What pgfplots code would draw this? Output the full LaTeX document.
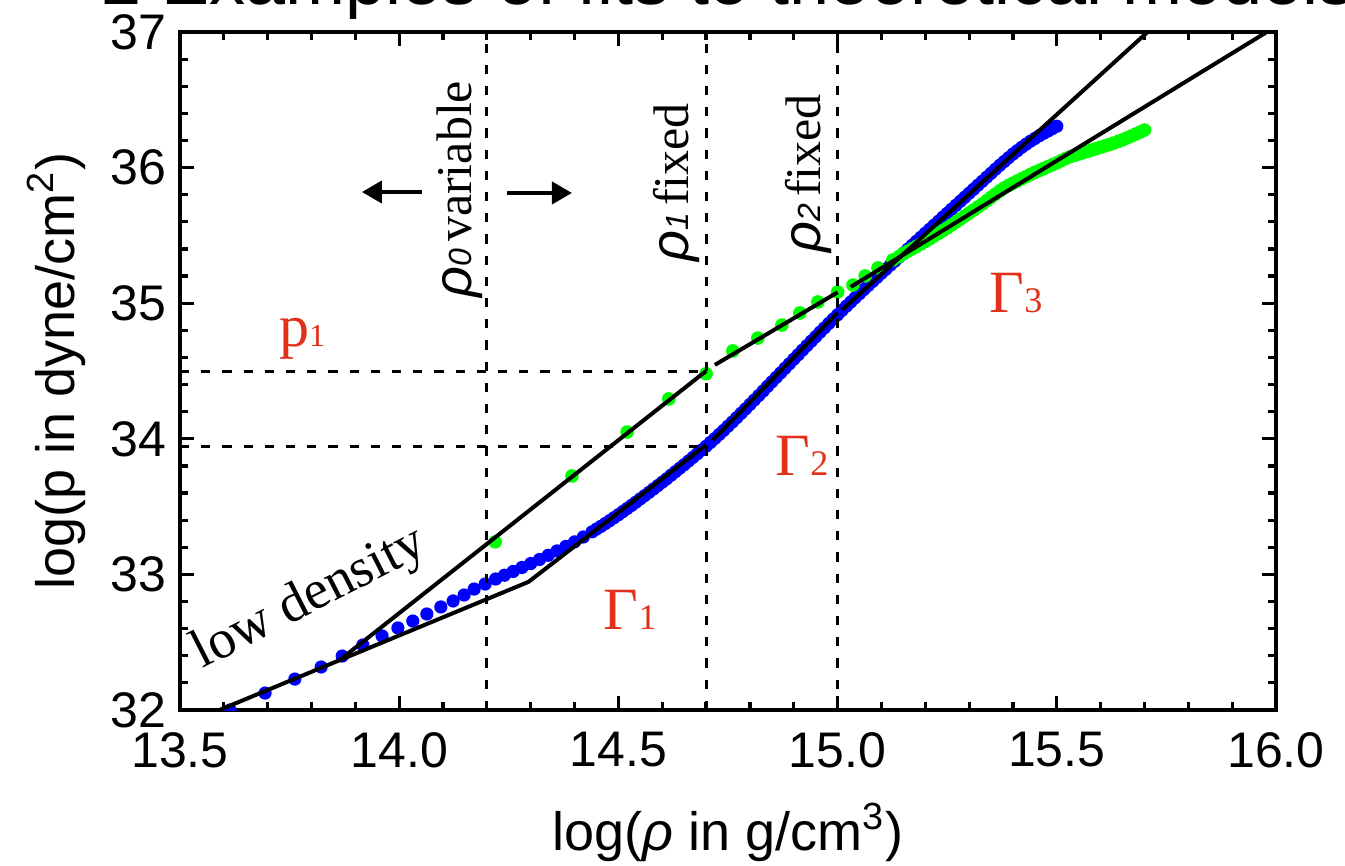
\documentclass[border=0pt]{standalone}
\usepackage{fontspec}
\setmainfont{Liberation Sans}
\newfontfamily\serif{Liberation Serif}
\usepackage{pgfplots}
\pgfplotsset{compat=1.18}
\usetikzlibrary{arrows.meta}
\definecolor{gred}{RGB}{226,48,26}
\definecolor{pblue}{RGB}{0,0,255}
\definecolor{pgreen}{RGB}{0,255,0}
\begin{document}
\begin{tikzpicture}
\begin{axis}[
  scale only axis, width=274pt, height=169.5pt,
  xmin=13.5, xmax=16, ymin=32, ymax=37,
  clip marker paths=true,
  axis line style={line width=1pt},
  xtick={13.5,14,14.5,15,15.5,16},
  ytick={32,33,34,35,36,37},
  minor x tick num=4, minor y tick num=4,
  tick align=inside, xtick pos=both, ytick pos=both,
  major tick length=3.5pt, minor tick length=2pt,
  every tick/.style={black, line width=0.8pt},
  tick label style={font=\fontsize{12.5}{12.5}\selectfont},
  /pgf/number format/assume math mode=true,
  x tick label style={/pgf/number format/fixed, /pgf/number format/fixed zerofill, /pgf/number format/precision=1, yshift=-2pt},
  xlabel={log(\textit{ρ} in g/cm\textsuperscript{3})},
  ylabel={log(p in dyne/cm\textsuperscript{2})},
  label style={font=\fontsize{13.5}{13.5}\selectfont},
  xlabel style={at={(axis description cs:0.5,-0.2065)}, anchor=base},
  ylabel style={at={(axis description cs:-0.0967,0.5)}, anchor=base},
  title={2 Examples of fits to theoretical models},
  every axis title/.style={at={(axis description cs:0.5,1)}, anchor=base, yshift=7pt, font=\fontsize{18}{18}\selectfont},
]
% blue data
\addplot[only marks, mark=*, color=pblue, mark size=1.45pt, mark options={line width=0.4pt}] coordinates {
(13.614,32.000) (13.694,32.125) (13.762,32.228) (13.822,32.317) (13.870,32.398)
(13.917,32.479) (13.961,32.546) (13.997,32.605) (14.031,32.656) (14.063,32.708)
(14.095,32.760) (14.123,32.804) (14.148,32.848) (14.171,32.892) (14.196,32.929)
(14.22,32.966) (14.24,32.994) (14.26,33.022) (14.28,33.051) (14.30,33.080)
(14.32,33.110) (14.34,33.141) (14.36,33.173) (14.38,33.206) (14.40,33.240)
(14.42,33.276) (14.44,33.314) (14.45,33.334) (14.46,33.354) (14.47,33.375)
(14.48,33.396) (14.49,33.418) (14.50,33.440) (14.51,33.463) (14.52,33.486)
(14.53,33.509) (14.54,33.533) (14.55,33.557) (14.56,33.581) (14.57,33.605)
(14.58,33.630) (14.59,33.655) (14.60,33.680) (14.61,33.705) (14.62,33.731)
(14.63,33.757) (14.64,33.783) (14.65,33.809) (14.66,33.836) (14.67,33.863)
(14.68,33.890) (14.69,33.917) (14.70,33.945) (14.71,33.973) (14.72,34.002)
(14.73,34.032) (14.74,34.062) (14.75,34.093) (14.76,34.124) (14.77,34.156)
(14.78,34.188) (14.79,34.220) (14.80,34.253) (14.81,34.286) (14.82,34.319)
(14.83,34.352) (14.84,34.386) (14.85,34.420) (14.86,34.453) (14.87,34.486)
(14.88,34.520) (14.89,34.553) (14.90,34.587) (14.91,34.620) (14.92,34.654)
(14.93,34.687) (14.94,34.720) (14.95,34.753) (14.96,34.786) (14.97,34.818)
(14.98,34.851) (14.99,34.883) (15.00,34.915) (15.01,34.947) (15.02,34.978)
(15.03,35.009) (15.04,35.040) (15.05,35.070) (15.06,35.101) (15.07,35.131)
(15.08,35.161) (15.09,35.191) (15.10,35.221) (15.11,35.250) (15.12,35.280)
(15.13,35.309) (15.14,35.339) (15.15,35.368) (15.16,35.398) (15.17,35.427)
(15.18,35.457) (15.19,35.486) (15.20,35.516) (15.21,35.545) (15.22,35.575)
(15.23,35.604) (15.24,35.634) (15.25,35.663) (15.26,35.693) (15.27,35.722)
(15.28,35.752) (15.29,35.781) (15.30,35.811) (15.31,35.840) (15.32,35.870)
(15.33,35.899) (15.34,35.929) (15.35,35.958) (15.36,35.988) (15.37,36.017)
(15.38,36.045) (15.39,36.073) (15.40,36.100) (15.41,36.125) (15.42,36.150)
(15.43,36.173) (15.44,36.195) (15.45,36.215) (15.46,36.235) (15.47,36.253)
(15.48,36.270) (15.49,36.288) (15.50,36.305)
};
% green data
\addplot[only marks, mark=*, color=pgreen, mark size=1.5pt, mark options={line width=0.4pt}] coordinates {
(14.219,33.240) (14.394,33.726) (14.520,34.050) (14.615,34.294) (14.700,34.480)
(14.761,34.648) (14.818,34.743) (14.873,34.839) (14.914,34.928) (14.955,35.009)
(15.000,35.083) (15.035,35.134) (15.063,35.201) (15.092,35.260) (15.126,35.319)
(15.14,35.344) (15.15,35.365) (15.16,35.383) (15.17,35.401) (15.18,35.419)
(15.19,35.437) (15.20,35.455) (15.21,35.475) (15.22,35.495) (15.23,35.515)
(15.24,35.535) (15.25,35.555) (15.26,35.577) (15.27,35.599) (15.28,35.621)
(15.29,35.643) (15.30,35.665) (15.31,35.687) (15.32,35.709) (15.33,35.731)
(15.34,35.755) (15.35,35.780) (15.36,35.804) (15.37,35.828) (15.38,35.850)
(15.39,35.868) (15.40,35.885) (15.41,35.901) (15.42,35.917) (15.43,35.933)
(15.44,35.949) (15.45,35.965) (15.46,35.979) (15.47,35.993) (15.48,36.007)
(15.49,36.021) (15.50,36.035) (15.51,36.051) (15.52,36.067) (15.53,36.080)
(15.54,36.090) (15.55,36.100) (15.56,36.110) (15.57,36.120) (15.58,36.130)
(15.59,36.140) (15.60,36.150) (15.61,36.160) (15.62,36.170) (15.63,36.181)
(15.64,36.193) (15.65,36.205) (15.66,36.219) (15.67,36.233) (15.68,36.247)
(15.69,36.262) (15.70,36.277)
};
% fits
\addplot[black, line width=1pt] coordinates {(13.59,32.0) (14.295,32.945) (14.70,33.955)};
\addplot[black, line width=1pt] coordinates {(14.715,33.99) (15.0,34.93)};
\addplot[black, line width=1pt] coordinates {(15.01,34.95) (15.707,37.0)};
\addplot[black, line width=1pt] coordinates {(13.865,32.37) (14.70,34.50)};
\addplot[black, line width=1pt] coordinates {(14.72,34.545) (15.0,35.08)};
\addplot[black, line width=1pt] coordinates {(15.03,35.12) (15.979,37.0)};
% dashed guides
\addplot[black, line width=0.75pt, dash pattern=on 2.3pt off 3pt] coordinates {(14.2,32) (14.2,37)};
\addplot[black, line width=0.75pt, dash pattern=on 2.3pt off 3pt] coordinates {(14.7,32) (14.7,37)};
\addplot[black, line width=0.75pt, dash pattern=on 2.3pt off 3pt] coordinates {(15.0,32) (15.0,37)};
\addplot[black, line width=0.75pt, dash pattern=on 2.3pt off 3pt] coordinates {(13.5,34.5) (14.7,34.5)};
\addplot[black, line width=0.75pt, dash pattern=on 2.3pt off 3pt] coordinates {(13.5,33.94) (14.7,33.94)};
% annotations
\node[anchor=base west, rotate=90, inner sep=0pt] at (axis cs:14.166,35.038)
  {{\fontsize{13.5}{13.5}\selectfont\itshape ρ\fontsize{8}{8}\selectfont 0}\,{\serif\fontsize{12.5}{12.5}\selectfont variable}};
\node[anchor=base west, rotate=90, inner sep=0pt] at (axis cs:14.659,35.304)
  {{\fontsize{13.5}{13.5}\selectfont\itshape ρ\fontsize{8}{8}\selectfont 1}\,{\serif\fontsize{12.5}{12.5}\selectfont fixed}};
\node[anchor=base west, rotate=90, inner sep=0pt] at (axis cs:14.96,35.37)
  {{\fontsize{13.5}{13.5}\selectfont\itshape ρ\fontsize{8}{8}\selectfont 2}\,{\serif\fontsize{12.5}{12.5}\selectfont fixed}};
\draw[line width=1pt, -{Triangle[length=5pt,width=5.5pt]}] (axis cs:14.052,35.82) -- (axis cs:13.915,35.82);
\draw[line width=1pt, -{Triangle[length=5pt,width=5.5pt]}] (axis cs:14.246,35.813) -- (axis cs:14.394,35.813);
\node[anchor=base west, rotate=27, inner sep=0pt, font=\serif\fontsize{13.7}{13.7}\selectfont] at (axis cs:13.55,32.30) {low density};
\node[anchor=base west, inner sep=0pt, text=gred, font=\serif\fontsize{15}{15}\selectfont] at (axis cs:13.724,34.684) {p{\fontsize{8}{8}\selectfont 1}};
\node[anchor=base west, inner sep=0pt, text=gred, font=\serif\fontsize{15}{15}\selectfont] at (axis cs:14.465,32.59) {Γ{\fontsize{9}{9}\selectfont 1}};
\node[anchor=base west, inner sep=0pt, text=gred, font=\serif\fontsize{15}{15}\selectfont] at (axis cs:14.857,33.733) {Γ{\fontsize{9}{9}\selectfont 2}};
\node[anchor=base west, inner sep=0pt, text=gred, font=\serif\fontsize{15}{15}\selectfont] at (axis cs:15.345,34.928) {Γ{\fontsize{9}{9}\selectfont 3}};
\end{axis}
\pgfresetboundingbox
\path[use as bounding box] ([xshift=-45pt,yshift=-38.75pt]current axis.south west) rectangle ([xshift=17.25pt,yshift=8pt]current axis.north east);
\end{tikzpicture}
\end{document}
